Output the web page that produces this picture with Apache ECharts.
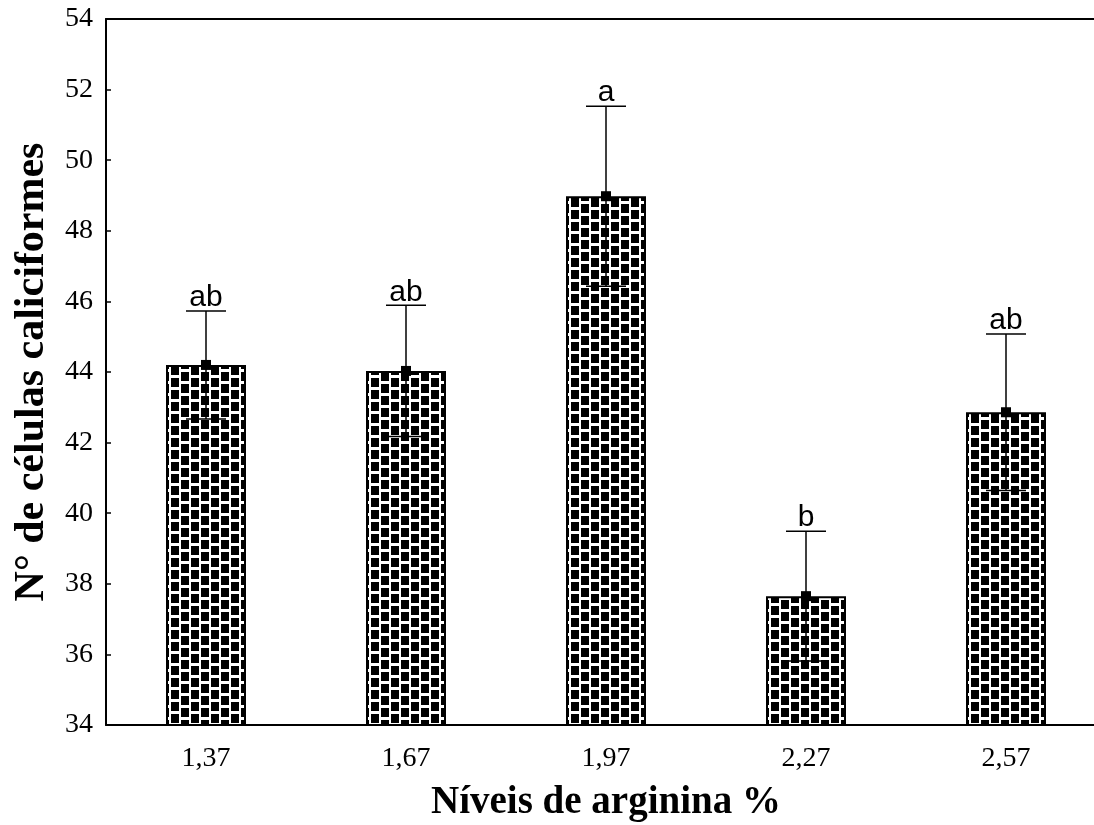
<!DOCTYPE html>
<html>
<head>
<meta charset="utf-8">
<script src="https://cdn.jsdelivr.net/npm/echarts@6/dist/echarts.min.js"></script>
<style>
  html, body { margin: 0; padding: 0; background: #fff; }
  #chart { width: 1094px; height: 825px; }
</style>
</head>
<body>
<div id="chart"></div>
<script>
// data
var niveis = ['1,37', '1,67', '1,97', '2,27', '2,57'];
var medias = [44.2, 44.03, 48.98, 37.65, 42.86];
var desvios = [1.53, 1.86, 2.55, 1.84, 2.22];
var letras = ['ab', 'ab', 'a', 'b', 'ab'];

// brick pattern for the bars
function makePattern() {
  var c = document.createElement('canvas');
  c.width = 20;
  c.height = 12;
  var ctx = c.getContext('2d');
  ctx.fillStyle = '#fff';
  ctx.fillRect(0, 0, 20, 12);
  ctx.fillStyle = '#000';
  ctx.fillRect(1, 0, 8, 9);
  ctx.fillRect(11, 6, 8, 6);
  ctx.fillRect(11, 0, 8, 3);
  return c;
}

var chart = echarts.init(document.getElementById('chart'));

var errData = medias.map(function (m, i) {
  return [i, m, m - desvios[i], m + desvios[i], letras[i]];
});

chart.setOption({
  animation: false,
  grid: { left: 106, top: 19, bottom: 100, right: -12, outerBoundsMode: 'none' },
  xAxis: [{
    type: 'category',
    data: niveis,
    axisLine: { lineStyle: { color: '#000', width: 2 } },
    axisTick: { show: false },
    axisLabel: { color: '#000', fontFamily: 'Liberation Serif', fontSize: 28, margin: 20 },
    name: 'Níveis de arginina %',
    nameLocation: 'middle',
    nameGap: 58,
    nameTextStyle: { color: '#000', fontFamily: 'Liberation Serif', fontSize: 39, fontWeight: 'bold' }
  }, {
    type: 'category',
    data: niveis,
    position: 'top',
    axisLine: { lineStyle: { color: '#000', width: 2 } },
    axisTick: { show: false },
    axisLabel: { show: false }
  }],
  yAxis: {
    type: 'value',
    min: 34,
    max: 54,
    interval: 2,
    splitLine: { show: false },
    axisLine: { show: true, lineStyle: { color: '#000', width: 2 } },
    axisTick: { show: true, inside: true, length: 5, lineStyle: { color: '#000', width: 1.5 } },
    axisLabel: { color: '#000', fontFamily: 'Liberation Serif', fontSize: 28, margin: 13 },
    name: 'N° de células caliciformes',
    nameLocation: 'middle',
    nameGap: 53,
    nameTextStyle: { color: '#000', fontFamily: 'Liberation Serif', fontSize: 42, fontWeight: 'bold' }
  },
  series: [{
    type: 'bar',
    data: medias,
    barWidth: '40%',
    itemStyle: {
      color: { image: makePattern(), repeat: 'repeat' },
      borderColor: '#000',
      borderWidth: 2
    }
  }, {
    type: 'custom',
    data: errData,
    z: 10,
    renderItem: function (params, api) {
      var x = api.value(0);
      var p = api.coord([x, api.value(1)]);
      var lo = api.coord([x, api.value(2)]);
      var hi = api.coord([x, api.value(3)]);
      var hw = 20;
      var st = { stroke: '#000', lineWidth: 1.5 };
      return {
        type: 'group',
        children: [
          { type: 'line', shape: { x1: p[0], y1: lo[1], x2: p[0], y2: hi[1] }, style: st },
          { type: 'line', shape: { x1: p[0] - hw, y1: hi[1], x2: p[0] + hw, y2: hi[1] }, style: st },
          { type: 'line', shape: { x1: p[0] - hw, y1: lo[1], x2: p[0] + hw, y2: lo[1] }, style: st },
          { type: 'rect', shape: { x: p[0] - 5, y: p[1] - 5, width: 10, height: 10 }, style: { fill: '#000' } },
          {
            type: 'text',
            x: p[0],
            y: hi[1] + 2,
            style: {
              text: api.value(4),
              fill: '#000',
              font: '30px "Liberation Sans"',
              align: 'center',
              verticalAlign: 'bottom'
            }
          }
        ]
      };
    }
  }]
});
</script>
</body>
</html>
